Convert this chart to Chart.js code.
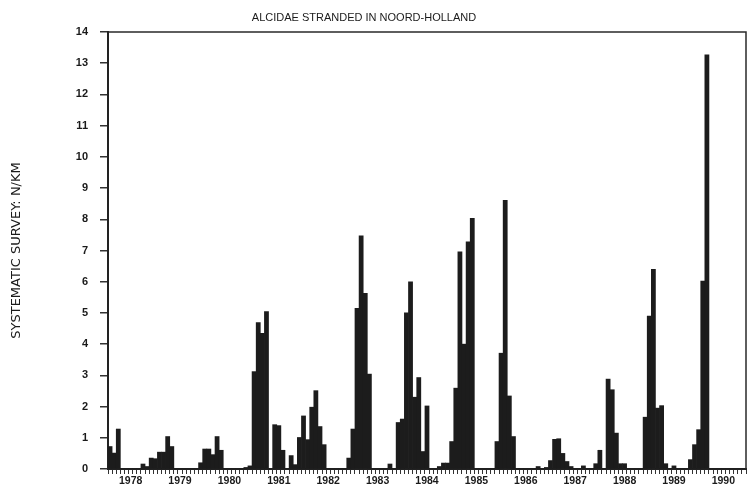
<html>
<head>
	<title>Alcidae stranded</title>
	<style>
		html, body {
			margin: 0;
			padding: 0;
			background: #fff;
		}
		#app {
			width: 749px;
			height: 493px;
		}
	</style>
</head>
<body>

	<div id="app">
		<canvas id="alcCanvas"></canvas>
	</div>

	<script src="https://cdn.jsdelivr.net/npm/chart.js@4.4.1/dist/chart.umd.min.js"></script>
	<script>
		// monthly values, Jan 1978 onwards (N/km)
		var startYear = 1978;
		var yearLabels = ['1978', '1979', '1980', '1981', '1982', '1983', '1984', '1985', '1986', '1987', '1988', '1989', '1990'];
		var values = [
			0.72, 0.51, 1.28, 0, 0, 0, 0, 0, 0.16, 0.08, 0.35, 0.33,
			0.54, 0.54, 1.04, 0.72, 0, 0, 0, 0, 0, 0, 0.2, 0.64,
			0.64, 0.46, 1.04, 0.6, 0, 0, 0, 0, 0, 0.05, 0.1, 3.12,
			4.69, 4.35, 5.04, 0, 1.42, 1.39, 0.6, 0, 0.43, 0.14, 1.01, 1.7,
			0.94, 1.98, 2.51, 1.36, 0.78, 0, 0, 0, 0, 0, 0.35, 1.28,
			5.15, 7.47, 5.63, 3.04, 0, 0, 0, 0, 0.16, 0, 1.49, 1.6,
			5.0, 6.0, 2.3, 2.93, 0.56, 2.02, 0, 0, 0.08, 0.19, 0.19, 0.88,
			2.59, 6.96, 4.0, 7.28, 8.03, 0, 0, 0, 0, 0, 0.88, 3.71,
			8.61, 2.34, 1.04, 0, 0, 0, 0, 0, 0.08, 0, 0.05, 0.27,
			0.95, 0.97, 0.5, 0.24, 0.08, 0, 0, 0.1, 0, 0, 0.17, 0.6,
			0, 2.88, 2.54, 1.15, 0.17, 0.17, 0, 0, 0, 0, 1.66, 4.9,
			6.4, 1.95, 2.03, 0.17, 0, 0.1, 0, 0, 0, 0.3, 0.78, 1.26,
			6.02, 13.27, 0, 0, 0, 0, 0, 0, 0, 0, 0
		];
		var chartTitle = 'ALCIDAE STRANDED IN NOORD-HOLLAND';

		var months = [];
		for (var i = 0; i < values.length; i++) {
			months.push((startYear + Math.floor(i / 12)) + '-' + (i % 12 + 1));
		}

		var ink = '#1c1c1c';

		// box round the plot (top and right sides) and the title
		var frame = {
			id: 'frame',
			afterDraw: function (chart) {
				var a = chart.chartArea, ctx = chart.ctx;
				ctx.save();
				ctx.strokeStyle = '#2a2a2a';
				ctx.lineWidth = 1.5;
				ctx.beginPath();
				ctx.moveTo(a.left, a.top);
				ctx.lineTo(a.right, a.top);
				ctx.lineTo(a.right, a.bottom);
				ctx.stroke();

				ctx.fillStyle = '#1a1a1a';
				ctx.font = '11px "Liberation Sans"';
				ctx.textAlign = 'center';
				ctx.textBaseline = 'middle';
				ctx.fillText(chartTitle, 364, 18);
				ctx.restore();
			}
		};

		var ctx = document.getElementById('alcCanvas').getContext('2d');
		ctx.canvas.width = 749;
		ctx.canvas.height = 493;

		var myChart = new Chart(ctx, {
			type: 'bar',
			data: {
				labels: months,
				datasets: [{
					data: values,
					backgroundColor: ink,
					borderWidth: 0,
					barPercentage: 1,
					categoryPercentage: 1
				}]
			},
			options: {
				responsive: false,
				animation: false,
				layout: { padding: { left: 0, right: 3, top: 32, bottom: 0 } },
				plugins: {
					legend: { display: false },
					tooltip: { enabled: false },
					title: { display: false }
				},
				scales: {
					x: {
						grid: { drawOnChartArea: false, tickLength: 5, color: '#333', lineWidth: 1 },
						border: { color: '#222', width: 2 },
						ticks: {
							autoSkip: false,
							maxRotation: 0,
							minRotation: 0,
							padding: 1,
							color: '#1a1a1a',
							font: { family: 'Liberation Sans', size: 10.5, weight: 'bold' },
							callback: function (v, i) {
								return i % 12 === 5 ? yearLabels[Math.floor(i / 12)] : '';
							}
						},
						afterFit: function (s) { s.height = 24; }
					},
					y: {
						min: 0,
						max: 14,
						grid: { drawOnChartArea: false, tickLength: 8, color: '#333', lineWidth: 1.5 },
						border: { color: '#222', width: 2 },
						ticks: {
							stepSize: 1,
							padding: 12,
							color: '#1a1a1a',
							font: { family: 'Liberation Sans', size: 11, weight: 'bold' }
						},
						title: {
							display: true,
							text: 'SYSTEMATIC SURVEY: N/KM',
							color: '#1a1a1a',
							font: { family: 'DejaVu Sans', size: 13 },
							padding: { top: 9, bottom: 0 }
						},
						afterFit: function (s) { s.width = 108; }
					}
				}
			},
			plugins: [frame]
		});
	</script>
</body>
</html>
